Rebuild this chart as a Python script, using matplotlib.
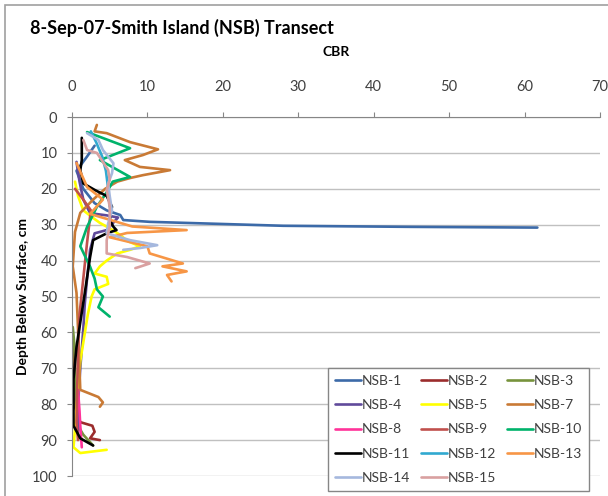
import matplotlib
matplotlib.use('Agg')
import matplotlib.pyplot as plt
from matplotlib.patches import Rectangle

plt.rcParams['font.family'] = ['Lato', 'DejaVu Sans']

# series names and colours
names = ['NSB-1', 'NSB-2', 'NSB-3', 'NSB-4', 'NSB-5', 'NSB-7', 'NSB-8',
         'NSB-9', 'NSB-10', 'NSB-11', 'NSB-12', 'NSB-13', 'NSB-14', 'NSB-15']
colors = ['#3C6AA8', '#9B2C2C', '#77933C', '#604A9B', '#FFFF00', '#C97A35', '#FF3399',
          '#C0504D', '#00B36B', '#000000', '#31A9D0', '#F79646', '#A5B8DE', '#D9A0A0']

# CBR (x) and depth in cm (y)
nsb1_cbr = [3.0, 2.0, 0.6, 1.5, 3.0, 4.6, 6.4, 6.8, 10.3, 20.0, 28.0, 45.0, 61.7]
nsb1_depth = [8.0, 11.0, 15.0, 20.0, 24.0, 26.0, 27.3, 28.7, 29.2, 29.8, 30.3, 30.6, 30.8]

nsb2_cbr = [0.2, 0.3, 0.4, 1.1, 2.7, 3.0, 2.4, 3.7]
nsb2_depth = [64.0, 72.0, 80.7, 85.0, 86.0, 87.7, 89.5, 90.0]

nsb3_cbr = [0.1, 0.3, 0.4, 0.5, 0.8, 1.5, 2.8]
nsb3_depth = [58.5, 63.0, 70.0, 80.0, 86.0, 88.5, 91.5]

nsb4_cbr = [0.6, 1.0, 1.5, 2.4, 4.6, 6.1, 4.6, 3.0, 2.4, 2.0, 1.7, 1.5, 1.1, 0.8, 0.8]
nsb4_depth = [12.5, 18.0, 23.0, 26.8, 27.4, 28.0, 31.5, 32.4, 37.0, 45.0, 52.0, 59.0, 70.0, 80.0, 88.0]

nsb5_cbr = [0.4, 0.8, 1.5, 2.6, 3.7, 5.0, 6.5, 7.3, 9.0, 7.7, 6.0, 4.6, 3.7, 3.0,
            4.6, 4.8, 3.0, 2.6, 2.1, 1.1, 0.4, 0.2, 1.1, 4.6]
nsb5_depth = [18.0, 22.0, 26.0, 27.8, 29.5, 31.0, 33.0, 34.5, 36.0, 37.0, 38.0, 40.0, 41.6, 43.6,
              44.5, 46.5, 48.0, 50.0, 55.0, 68.0, 87.0, 92.0, 93.6, 92.7]

nsb7_cbr = [3.3, 3.0, 4.6, 7.7, 11.4, 9.4, 7.0, 9.0, 13.0, 9.4, 7.7, 6.0, 4.4, 2.8,
            1.1, 0.4, 0.1, 0.6, 0.8, 1.1, 3.5, 4.1, 3.7]
nsb7_depth = [2.2, 4.0, 4.5, 7.0, 9.0, 10.6, 12.0, 13.9, 14.8, 16.2, 17.0, 18.0, 20.0, 23.0,
              26.7, 32.0, 41.6, 49.0, 59.0, 76.0, 78.0, 79.5, 80.7]

nsb8_cbr = [0.8, 1.0, 1.1, 1.3]
nsb8_depth = [76.0, 82.0, 86.0, 92.0]

nsb9_cbr = [0.4, 1.5, 2.5, 2.0, 1.5, 1.0, 0.8, 0.7, 0.6, 0.8]
nsb9_depth = [20.0, 23.0, 26.0, 35.0, 45.0, 55.0, 65.0, 75.0, 85.0, 90.0]

nsb10_cbr = [2.0, 7.7, 3.7, 7.7, 5.4, 4.6, 3.3, 2.0, 1.1, 2.4, 3.0, 3.3, 4.1, 3.5, 5.0]
nsb10_depth = [4.2, 8.7, 12.0, 16.7, 18.0, 21.0, 25.0, 30.6, 36.0, 41.7, 45.0, 48.0, 50.0, 53.0, 55.6]

nsb11_cbr = [1.3, 1.3, 1.1, 1.5, 3.0, 4.6, 5.3, 5.0, 5.5, 5.9, 4.6, 2.8, 2.4, 1.7,
             0.6, 0.2, 0.2, 1.1, 2.8]
nsb11_depth = [5.8, 12.0, 14.8, 18.5, 20.3, 22.0, 25.0, 28.7, 30.6, 31.5, 32.4, 34.3, 39.0, 49.0,
               64.0, 73.0, 86.0, 89.5, 91.5]

nsb12_cbr = [2.5, 3.2, 4.0, 4.5, 4.8, 5.0]
nsb12_depth = [4.0, 7.0, 11.0, 15.0, 20.0, 25.0]

nsb13_cbr = [0.6, 2.0, 4.1, 2.4, 8.0, 15.2, 7.3, 5.0, 10.0, 10.3, 14.7, 12.0, 15.2, 12.6, 13.2]
nsb13_depth = [12.8, 19.5, 23.0, 27.0, 30.5, 31.5, 32.3, 33.5, 36.0, 38.0, 40.8, 41.6, 43.0, 44.0, 45.8]

nsb14_cbr = [2.0, 3.5, 4.1, 5.5, 5.3, 4.8, 5.0, 5.3, 4.8, 4.6, 7.7, 11.3, 9.0, 6.8]
nsb14_depth = [4.5, 6.4, 9.2, 12.9, 15.7, 18.5, 22.0, 26.0, 29.6, 32.4, 34.3, 35.7, 36.5, 37.0]

nsb15_cbr = [1.5, 2.0, 3.3, 4.1, 4.8, 5.0, 4.6, 5.0, 5.0, 4.6, 4.6, 7.3, 10.3, 9.0, 8.4]
nsb15_depth = [6.4, 9.2, 10.0, 12.5, 14.8, 17.5, 20.3, 25.0, 30.6, 34.3, 38.0, 39.0, 40.8, 41.7, 42.1]

series = [(nsb1_cbr, nsb1_depth), (nsb2_cbr, nsb2_depth), (nsb3_cbr, nsb3_depth),
          (nsb4_cbr, nsb4_depth), (nsb5_cbr, nsb5_depth), (nsb7_cbr, nsb7_depth),
          (nsb8_cbr, nsb8_depth), (nsb9_cbr, nsb9_depth), (nsb10_cbr, nsb10_depth),
          (nsb11_cbr, nsb11_depth), (nsb12_cbr, nsb12_depth), (nsb13_cbr, nsb13_depth),
          (nsb14_cbr, nsb14_depth), (nsb15_cbr, nsb15_depth)]

fig = plt.figure(figsize=(6.08, 4.96), dpi=100)
ax = fig.add_axes([0.1184, 0.0403, 0.8684, 0.7238])

handles = {}
for name, col, (x, y) in zip(names, colors, series):
    line, = ax.plot(x, y, color=col, lw=1.9, solid_joinstyle='round', solid_capstyle='round')
    handles[name] = line

ax.set_xlim(0, 70)
ax.set_ylim(100, 0)
ax.set_xticks(range(0, 71, 10))
ax.set_yticks(range(0, 101, 10))
ax.xaxis.tick_top()
ax.xaxis.set_label_position('top')
ax.tick_params(axis='x', direction='out', length=3.5, pad=13, labelsize=10.5,
               colors='#868686', labelcolor='#404040')
ax.tick_params(axis='y', direction='out', length=3.5, pad=7, labelsize=10.5,
               colors='#868686', labelcolor='#404040')
ax.yaxis.grid(True, color='#C0C0C0', lw=1)
ax.set_axisbelow(True)
for s in ['right', 'bottom']:
    ax.spines[s].set_visible(False)
for s in ['top', 'left']:
    ax.spines[s].set_color('#868686')

ax.set_xlabel('CBR', fontsize=10, fontweight='bold', labelpad=17)
ax.set_ylabel('Depth Below Surface, cm', fontsize=10, fontweight='bold', labelpad=2)
fig.text(0.049, 0.943, '8-Sep-07-Smith Island (NSB) Transect', fontsize=13,
         fontweight='bold', va='center', ha='left')

# legend row-wise like Excel: reorder for column-major fill
order = ['NSB-1', 'NSB-4', 'NSB-8', 'NSB-11', 'NSB-14',
         'NSB-2', 'NSB-5', 'NSB-9', 'NSB-12', 'NSB-15',
         'NSB-3', 'NSB-7', 'NSB-10', 'NSB-13']
leg = ax.legend([handles[n] for n in order], order, ncol=3, loc='upper left',
                bbox_to_anchor=(328 / 608, 1 - 368 / 496), bbox_transform=fig.transFigure,
                borderaxespad=0, fontsize=10, handlelength=1.9, handletextpad=0.05,
                columnspacing=0.75, labelspacing=0.88, fancybox=False, framealpha=1,
                edgecolor='#868686', borderpad=0.5)
leg.get_frame().set_linewidth(1)
for t in leg.get_texts():
    t.set_color('#404040')

# outer chart frame
fig.patches.append(Rectangle((5 / 608, -0.02), 1.02, 1 - 5 / 496 + 0.02, transform=fig.transFigure,
                             fill=False, edgecolor='#A0A0A0', lw=1.2))

fig.savefig('out.png', dpi=100)
